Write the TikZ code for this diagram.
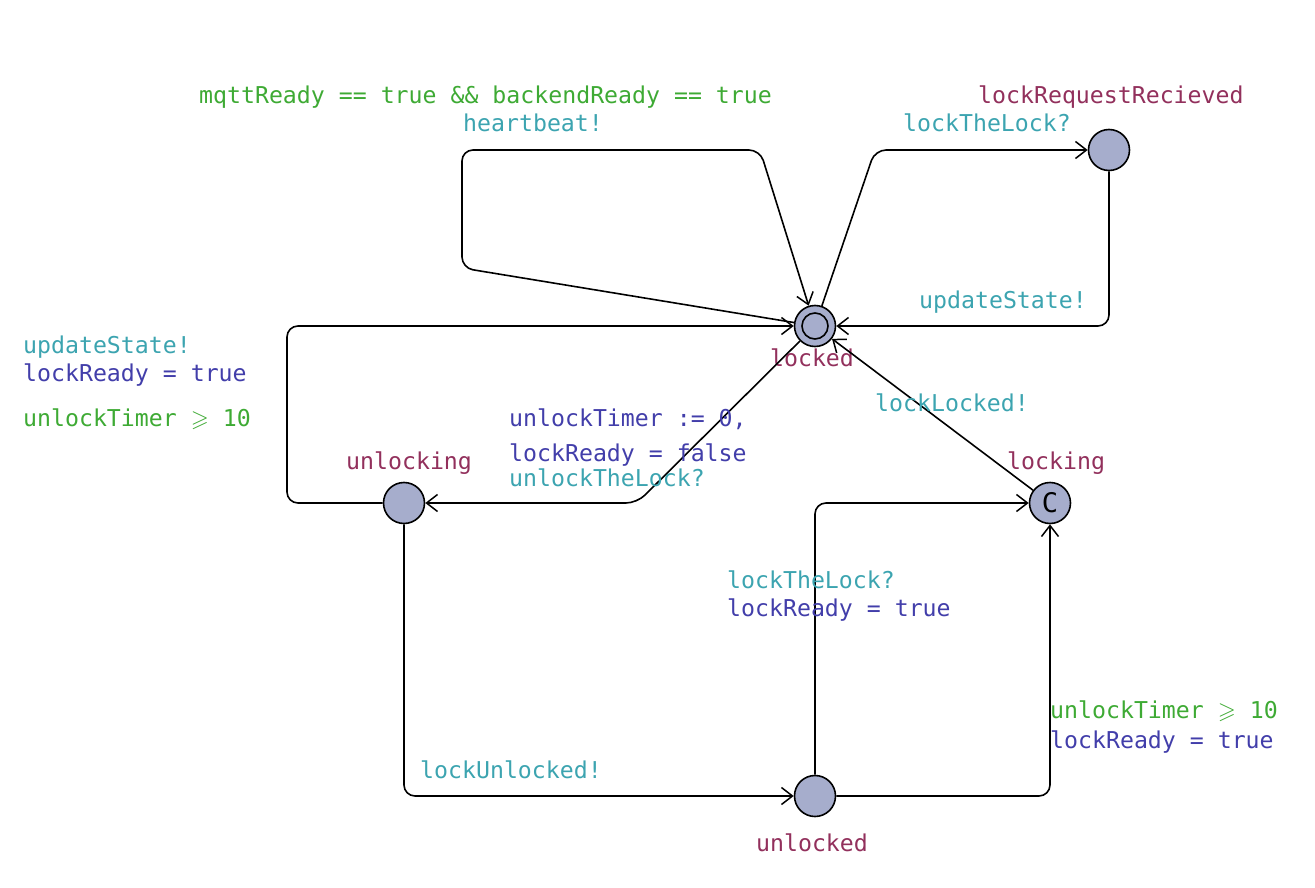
\documentclass[tikz,border=0pt]{standalone}
\usepackage{amssymb}
\usepackage{fontspec}
\usepackage{tikz}
\usetikzlibrary{arrows.meta}
\newfontfamily\uppaalfont{DejaVu Sans Mono}
\definecolor{locfill}{RGB}{166,173,204}
\definecolor{guardcol}{RGB}{62,170,52}
\definecolor{synccol}{RGB}{60,164,176}
\definecolor{assigncol}{RGB}{66,62,170}
\definecolor{namecol}{RGB}{146,48,92}

\begin{document}
\begin{tikzpicture}[x=1pt, y=-1pt,
                       every node/.style={font=\uppaalfont\fontsize{23.2}{23.2}\selectfont},
                       loc/.style={circle,draw,fill=locfill,line width=1.6pt,minimum size=41pt,inner sep=0pt},
                       lbl/.style={anchor=base west,inner sep=0pt},
                       guard/.style={lbl,text=guardcol},
                       sync/.style={lbl,text=synccol},
                       assign/.style={lbl,text=assigncol},
                       locname/.style={lbl,text=namecol},
                       edge/.style={->,line width=1.6pt,rounded corners=11pt},
                       >={Straight Barb[length=11pt,width=17pt,line width=1.5pt]}]
  \useasboundingbox (0,0) rectangle (1315,888);
  \node[loc] (locked) at (815,326) {};
  \draw[line width=1.6pt] (locked.center) circle[radius=13pt];
  \node[loc] (request) at (1109,150) {};
  \node[loc] (locking) at (1050,503) {\fontsize{27}{27}\selectfont C};
  \node[loc] (unlocking) at (404,503) {};
  \node[loc] (unlocked) at (815,796) {};
  \node[locname,anchor=base] (lockedname) at (812,366) {locked};
  \node[locname] (requestname) at (978,104) {lockRequestRecieved};
  \node[locname] (lockingname) at (1007,469) {locking};
  \node[locname] (unlockingname) at (346,469) {unlocking};
  \node[locname,anchor=base] (unlockedname) at (812,851) {unlocked};
  \draw [edge] (locked) -- (462,268) -- (462,150) -- (760,150) -- (locked);
  \node[guard] (beatguard) at (199,104) {mqttReady == true \&\& backendReady == true};
  \node[sync] (beatsync) at (463,132) {heartbeat!};
  \draw [edge] (locked) -- (875,150) -- (request);
  \node[sync] (reqsync) at (903,132) {lockTheLock?};
  \draw [edge] (request) -- (1109,326) -- (locked);
  \node[sync] (reqback) at (919,308) {updateState!};
  \draw [edge] (locked) -- (637,503) -- (unlocking);
  \node[assign] (unlockreset) at (509,426) {unlockTimer := 0,};
  \node[assign] (unlockready) at (509,461) {lockReady = false};
  \node[sync] (unlocksync) at (509,486) {unlockTheLock?};
  \draw [edge] (unlocking) -- (287,503) -- (287,326) -- (locked);
  \node[sync] (backsync) at (23,353) {updateState!};
  \node[assign] (backready) at (23,381) {lockReady = true};
  \node[guard] (backguard) at (23,426) {unlockTimer $\geqslant$ 10};
  \draw [edge] (unlocking) -- (404,796) -- (unlocked);
  \node[sync] (unlockedsync) at (420,778) {lockUnlocked!};
  \draw [edge] (unlocked) -- (815,503) -- (locking);
  \node[sync] (relocksync) at (727,588) {lockTheLock?};
  \node[assign] (relockready) at (727,616) {lockReady = true};
  \draw [edge] (unlocked) -- (1050,796) -- (locking);
  \node[guard] (autoguard) at (1050,718) {unlockTimer $\geqslant$ 10};
  \node[assign] (autoready) at (1050,748) {lockReady = true};
  \draw [edge] (locking) -- (locked);
  \node[sync] (lockedsync) at (875,411) {lockLocked!};
\end{tikzpicture}
\end{document}
